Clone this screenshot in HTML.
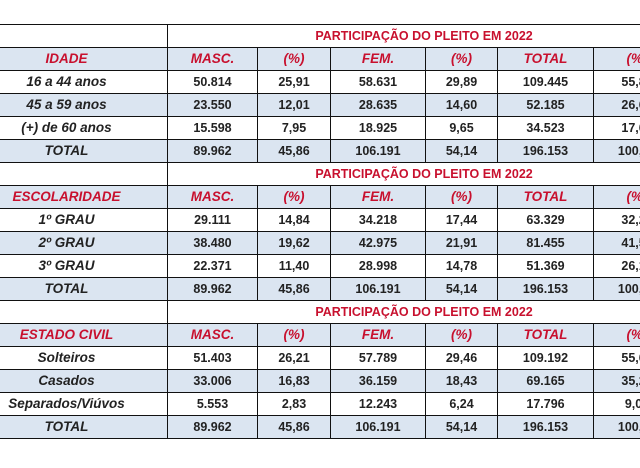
<!DOCTYPE html>
<html><head><meta charset="utf-8"><style>
body{margin:0;width:640px;height:468px;overflow:hidden;background:#fff;font-family:"Liberation Sans",sans-serif;position:relative;}
table{position:absolute;left:-35px;top:24px;border-collapse:collapse;table-layout:fixed;width:715px;}
td{border:1.5px solid #111;height:22px;padding:0;text-align:center;font-weight:bold;font-size:12.5px;color:#222;line-height:14px;white-space:nowrap;overflow:hidden;}
td.l{font-style:italic;font-size:13.5px;}
tr.b td{background:#dbe5f1;}
td.r{color:#c8102e;font-style:italic;font-size:13.5px;}
td.h{color:#c8102e;font-size:12.5px;text-align:center;background:#fff;border-left:none;}
td.e{background:#fff!important;}
</style></head><body>
<table>
<colgroup><col style="width:202px"><col style="width:90px"><col style="width:73px"><col style="width:95px"><col style="width:72px"><col style="width:96px"><col style="width:87px"></colgroup>
<tr><td class="e"></td><td class="h" colspan="6">PARTICIPAÇÃO DO PLEITO EM 2022</td></tr>
<tr class="b"><td class="r">IDADE</td><td class="r">MASC.</td><td class="r">(%)</td><td class="r">FEM.</td><td class="r">(%)</td><td class="r">TOTAL</td><td class="r">(%)</td></tr>
<tr><td class="l">16 a 44 anos</td><td>50.814</td><td>25,91</td><td>58.631</td><td>29,89</td><td>109.445</td><td>55,80</td></tr>
<tr class="b"><td class="l">45 a 59 anos</td><td>23.550</td><td>12,01</td><td>28.635</td><td>14,60</td><td>52.185</td><td>26,61</td></tr>
<tr><td class="l">(+) de 60 anos</td><td>15.598</td><td>7,95</td><td>18.925</td><td>9,65</td><td>34.523</td><td>17,60</td></tr>
<tr class="b"><td class="l">TOTAL</td><td>89.962</td><td>45,86</td><td>106.191</td><td>54,14</td><td>196.153</td><td>100,00</td></tr>
<tr><td class="e"></td><td class="h" colspan="6">PARTICIPAÇÃO DO PLEITO EM 2022</td></tr>
<tr class="b"><td class="r">ESCOLARIDADE</td><td class="r">MASC.</td><td class="r">(%)</td><td class="r">FEM.</td><td class="r">(%)</td><td class="r">TOTAL</td><td class="r">(%)</td></tr>
<tr><td class="l">1º GRAU</td><td>29.111</td><td>14,84</td><td>34.218</td><td>17,44</td><td>63.329</td><td>32,29</td></tr>
<tr class="b"><td class="l">2º GRAU</td><td>38.480</td><td>19,62</td><td>42.975</td><td>21,91</td><td>81.455</td><td>41,53</td></tr>
<tr><td class="l">3º GRAU</td><td>22.371</td><td>11,40</td><td>28.998</td><td>14,78</td><td>51.369</td><td>26,18</td></tr>
<tr class="b"><td class="l">TOTAL</td><td>89.962</td><td>45,86</td><td>106.191</td><td>54,14</td><td>196.153</td><td>100,00</td></tr>
<tr><td class="e"></td><td class="h" colspan="6">PARTICIPAÇÃO DO PLEITO EM 2022</td></tr>
<tr class="b"><td class="r">ESTADO CIVIL</td><td class="r">MASC.</td><td class="r">(%)</td><td class="r">FEM.</td><td class="r">(%)</td><td class="r">TOTAL</td><td class="r">(%)</td></tr>
<tr><td class="l">Solteiros</td><td>51.403</td><td>26,21</td><td>57.789</td><td>29,46</td><td>109.192</td><td>55,67</td></tr>
<tr class="b"><td class="l">Casados</td><td>33.006</td><td>16,83</td><td>36.159</td><td>18,43</td><td>69.165</td><td>35,26</td></tr>
<tr><td class="l">Separados/Viúvos</td><td>5.553</td><td>2,83</td><td>12.243</td><td>6,24</td><td>17.796</td><td>9,07</td></tr>
<tr class="b"><td class="l">TOTAL</td><td>89.962</td><td>45,86</td><td>106.191</td><td>54,14</td><td>196.153</td><td>100,00</td></tr>
</table>
</body></html>
